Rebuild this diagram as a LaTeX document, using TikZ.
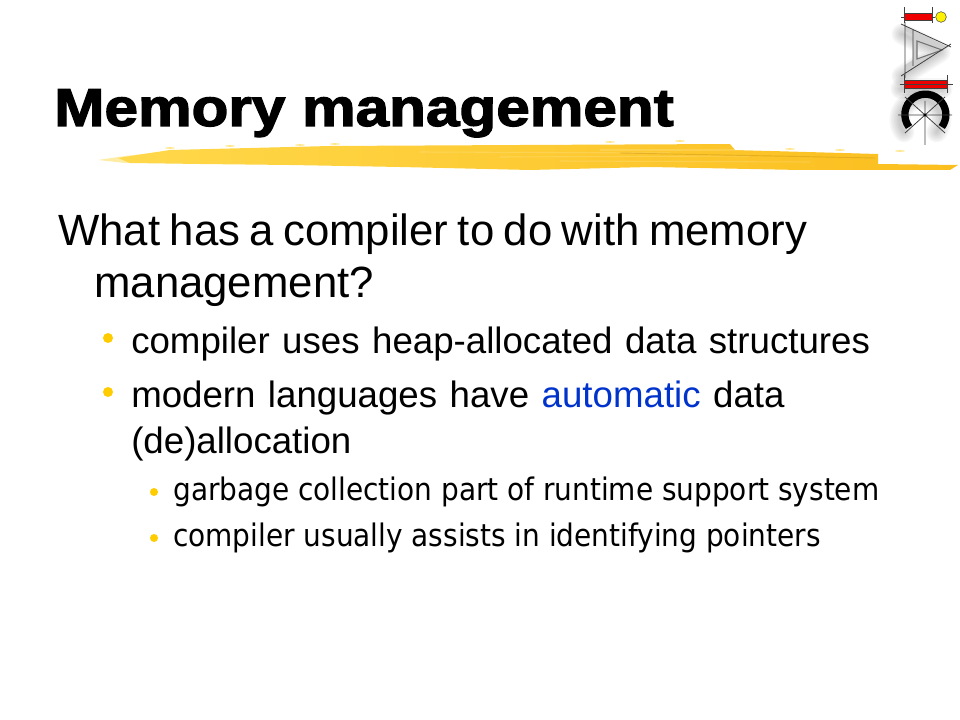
\documentclass[tikz,border=0pt]{standalone}
\usepackage{fontspec}
\setmainfont{Liberation Sans}
\newfontface\titlefont[FakeBold=2.2]{Liberation Sans Bold}
\newfontfamily\smallfont{DejaVu Sans Condensed}
\newcommand\bodyfont{\fontsize{32.8}{36}\selectfont\spaceskip .215em\relax}
\newcommand\subfont{\fontsize{27.5}{30}\selectfont\spaceskip .34em\relax}
\usetikzlibrary{positioning,calc}
\definecolor{strokeyellow}{HTML}{FFD84A}
\definecolor{strokedark}{HTML}{FBBE1E}
\definecolor{bulletyellow}{HTML}{FFCC00}
\definecolor{linkblue}{HTML}{0033CC}
\definecolor{logored}{HTML}{EE0000}
\definecolor{logogrey}{HTML}{CFCFCF}
\tikzset{
	titletext/.style={anchor=base west,inner sep=0,font=\fontsize{40}{44}\titlefont},
	bodytext/.style={anchor=base west,inner sep=0,font=\bodyfont},
	subtext/.style={anchor=base west,inner sep=0,font=\subfont},
	subsubtext/.style={anchor=base west,inner sep=0,font=\fontsize{23.3}{28}\smallfont},
	bullet/.style={circle,fill=bulletyellow,inner sep=0,minimum size=7.5pt},
	smallbullet/.style={circle,fill=bulletyellow,inner sep=0,minimum size=6pt},
	logoline/.style={black!75,line width=.6pt},
	logoshadow/.style={line cap=round,line join=round,black,opacity=.03}
}
\begin{document}
\begin{tikzpicture}[x=.75pt,y=-.75pt]
	\useasboundingbox (0,0) rectangle (960,720);
	
	% yellow brush stroke
	\fill[strokeyellow!50!white] (98,160) -- (125,156) -- (160,152) -- (160,163) -- (125,163) -- cycle;
	\shade[left color=strokeyellow,right color=strokedark] (118,158) -- (170,150) -- (330,146) -- (520,145) -- (730,144) -- (735,150) -- (878,154) -- (878,164) -- (958,165) -- (950,170) -- (800,170) -- (650,167) -- (530,170) -- (400,167) -- (290,165) -- (200,164) -- (130,163) -- cycle;
	\foreach \ya/\yb/\xa in {152/153/420,157/156/500,161/162/560,150/150/600}
		\draw[white,opacity=.15,line width=.8pt] (\xa,\ya) -- (\xa+250,\yb);
	\draw[strokedark!85!black,opacity=.6,line width=.7pt] (620,153) -- (875,158);
	\foreach \xa/\ya in {170/148,230/146,300/145,335/144,610/142,680/141,790/149,840/150,900/151}
		\fill[strokeyellow!70!white] (\xa,\ya) ellipse (5 and .8);
	
	% logo shadow
	\foreach \w in {3,6,...,21} {
		\draw[logoshadow,line width=\w*.75pt] (902,34) -- (940,52) -- (902,76);
		\draw[logoshadow,line width=\w*.75pt] (901,89) -- (942,89);
		\draw[logoshadow,line width=\w*.75pt] (904,132) arc[start angle=143,end angle=397,radius=20.5];
	}
	
	% logo
	\foreach \xa in {904,932}
		\draw[logoline] (\xa,7) -- (\xa,23);
	\draw[logoline] (901,17) -- (935,17);
	\fill[logored] (904,13) rectangle (932,20);
	\draw[logoline] (904,13) rectangle (932,20);
	\node[circle,draw=black!70,fill=yellow,inner sep=0,minimum size=8pt] (logodot) at (941,17) {};
	
	\fill[logogrey,even odd rule] (905,26) -- (948,47) -- (905,74) -- (905,65) -- (913,60) -- (913,35) -- (905,31) -- cycle (917,41) -- (942,50) -- (917,59) -- cycle;
	\draw[black!55,line width=.8pt] (917,41) -- (942,50) -- (917,59) -- cycle;
	\draw[logoline] (901,24) -- (951,47) (901,76) -- (951,44) (905,22) -- (905,78) (913,30) -- (913,66);
	
	\foreach \xa in {904,947}
		\draw[logoline] (\xa,75) -- (\xa,93);
	\fill[logored] (904,80) rectangle (947,88);
	\draw[logoline] (904,80) rectangle (947,88);
	\draw[logoline] (900,84) -- (953,84);
	
	\draw[black,line width=5.5pt] (909,127) arc[start angle=143,end angle=397,radius=20.5];
	\draw[logoline] (925,101) -- (925,145) (898,115) -- (952,115) (905,133) -- (945,97) (945,133) -- (905,97);
	\fill[black] (925,115) circle (1.6);
	
	% title
	\node[titletext,xscale=1.13] (title) at (54,126) {Memory management};
	
	% body text
	\node[bodytext] (line1) at (58,245.5) {What has a compiler to do with memory};
	\node[bodytext] (line2) at (94,297) {management?};
	
	\node[bullet] (bulleta) at (108,338) {};
	\node[subtext] (subalabel) at (131,353) {compiler uses heap-allocated data structures};
	\node[bullet] (bulletb) at (108,392) {};
	\node[subtext] (subblabel) at (131,407) {modern languages have \textcolor{linkblue}{automatic} data};
	\node[subtext] (subclabel) at (131,453) {(de)allocation};
	
	\node[smallbullet] (bulletc) at (154,492) {};
	\node[subsubtext] (subdlabel) at (173,500) {garbage collection part of runtime support system};
	\node[smallbullet] (bulletd) at (154,538) {};
	\node[subsubtext] (subelabel) at (173,546) {compiler usually assists in identifying pointers};
\end{tikzpicture}
\end{document}
